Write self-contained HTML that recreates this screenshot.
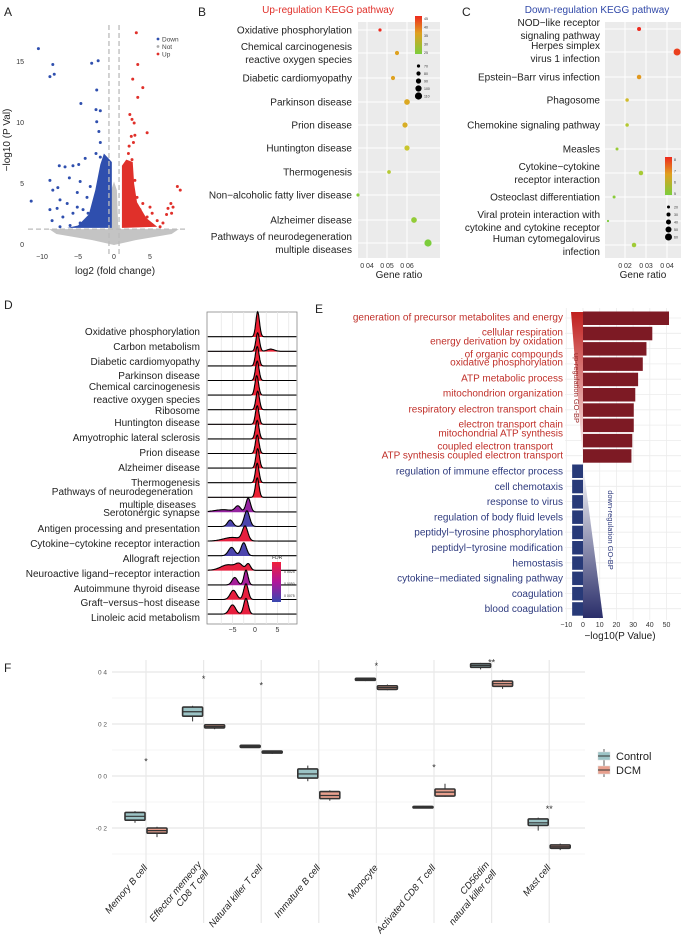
<!DOCTYPE html>
<html><head><meta charset="utf-8"><style>
html,body{margin:0;padding:0;background:#fff;}
svg{display:block;font-family:"Liberation Sans",Arial,sans-serif;}
</style></head><body>
<svg id="fig" width="681" height="942" viewBox="0 0 681 942" xmlns="http://www.w3.org/2000/svg">
<defs>
<linearGradient id="gB" x1="0" y1="0" x2="0" y2="1"><stop offset="0" stop-color="#ee2a1e"/><stop offset="0.45" stop-color="#e0a020"/><stop offset="1" stop-color="#7ccd3c"/></linearGradient>
<linearGradient id="gFDR" x1="0" y1="0" x2="0" y2="1"><stop offset="0" stop-color="#f0203a"/><stop offset="0.5" stop-color="#b0169a"/><stop offset="1" stop-color="#3848b0"/></linearGradient>
<linearGradient id="gUp" x1="0" y1="0" x2="0" y2="1"><stop offset="0" stop-color="#c0201e"/><stop offset="1" stop-color="#fff"/></linearGradient>
<linearGradient id="gDn" x1="0" y1="0" x2="0" y2="1"><stop offset="0" stop-color="#fff"/><stop offset="1" stop-color="#2a2e6a"/></linearGradient>
</defs>
<g id="A"></g><g id="B"></g><g id="C"></g><g id="D"></g><g id="E"></g><g id="F"></g>
</svg>
<script>
// ---------- Panel A data ----------
const downX=[-10.5,-8.5,-8.3,-8.9,-3.1,-2.2,-2.4,-4.6,-2.5,-1.9,-2.4,-2.1,-1.9,-2.5,-1.9,-4,-4.9,-7.6,-6.8,-5.7,-8.9,-6.2,-8.5,-7.8,-4.7,-11.5,-8.9,-8.6,-7.5,-6.5,-5.1,-3.75,-7.1,-5.7,-4.3,-3.3,-7.5,-6.1,-4.7,-3.6,-5.1,-7.9];
const downY=[16.1,14.8,14,13.8,14.9,15.1,12.7,11.6,11.1,11,10.1,9.3,8.4,7.5,7.2,7.1,6.6,6.5,6.4,6.5,5.3,5.5,4.5,4.7,5.2,3.6,2.9,2,3.7,3.4,4.3,3.9,2.3,2.6,2.9,4.8,1.5,1.6,1.8,2.6,3.1,3];
const upX=[3.1,3.3,2.6,4,3.3,2.2,2.5,2.8,2.9,4.6,2.4,2.1,2.7,2,2.5,8.8,9.2,7.9,7.5,7.3,6.8,6.4,4.6,3.6,3.2,4,5.3,6,8,8.2,2.9,5];
const upY=[17.4,14.8,13.6,12.9,12.1,10.7,10.3,10,9,9.2,8.9,8.1,8.4,7.5,7,4.8,4.5,3.4,3,2.5,1.8,1.5,2.3,2.9,3.9,3.4,2.6,2,2.6,3.1,5.3,3.1];
const downCloudX=[-0.3,-0.3,-1.4,-1.9,-2.6,-3.5,-5,-6.5];
const downCloudY=[1.4,6.8,7.5,6.6,4.5,2.5,1.6,1.4];
const upCloudX=[1.1,1.1,1.7,2.6,2.8,3.2,4.5,6];
const upCloudY=[1.4,6.5,7,6.8,5,3.5,2.2,1.5];
const notCloudX=[-9,-4,-0.6,-0.4,0,0.4,0.6,4,9,8,3,0,-3,-8];
const notCloudY=[1.3,1.3,1.3,4.5,5.2,4.5,1.3,1.3,1.3,0.9,0.4,0,0.4,0.9];
const aXTicks=[-10,-5,0,5];
const aYTicks=[0,5,10,15];
// ---------- Panel B data ----------
const bPathways=[["Oxidative phosphorylation"],["Chemical carcinogenesis","reactive oxygen species"],["Diabetic cardiomyopathy"],["Parkinson disease"],["Prion disease"],["Huntington disease"],["Thermogenesis"],["Non\u2212alcoholic fatty liver disease"],["Alzheimer disease"],["Pathways of neurodegeneration","multiple diseases"]];
const bRatio=[0.0465,0.055,0.053,0.060,0.059,0.060,0.051,0.0355,0.0635,0.0705];
const bCount=[45,38,38,37,36,32,30,26,27,25];
const bGenes=[70,80,80,95,90,90,75,70,95,110];
const bTicks=[0.04,0.05,0.06];
// ---------- Panel C data ----------
const cPathways=[["NOD\u2212like receptor","signaling pathway"],["Herpes simplex","virus 1 infection"],["Epstein\u2212Barr virus infection"],["Phagosome"],["Chemokine signaling pathway"],["Measles"],["Cytokine\u2212cytokine","receptor interaction"],["Osteoclast differentiation"],["Viral protein interaction with","cytokine and cytokine receptor"],["Human cytomegalovirus","infection"]];
const cRatio=[0.0267,0.0448,0.0267,0.021,0.021,0.0162,0.0276,0.0148,0.0119,0.0243];
const cCount=[8,7.8,7,6.2,5.6,5.2,5.4,5,4.8,5.3];
const cGenes=[30,60,35,25,25,20,35,20,12,35];
const cTicks=[0.02,0.03,0.04];
// ---------- Panel D data ----------
const dPathways=["Oxidative phosphorylation","Carbon metabolism","Diabetic cardiomyopathy","Parkinson disease","Chemical carcinogenesis","Ribosome","Huntington disease","Amyotrophic lateral sclerosis","Prion disease","Alzheimer disease","Thermogenesis","Pathways of neurodegeneration","Serotonergic synapse","Antigen processing and presentation","Cytokine\u2212cytokine receptor interaction","Allograft rejection","Neuroactive ligand\u2212receptor interaction","Autoimmune thyroid disease","Graft\u2212versus\u2212host disease","Linoleic acid metabolism"];
const dExtraLabels=["reactive oxygen species","multiple diseases"];
const dMu=[[0.6],[0.6,3.5],[0.5],[0.5],[0.4],[0.6],[0.5],[0.5],[0.5],[0.6],[0.5],[0.5],[-1.5,-3.8,-7],[-5.5,-1.8],[-2.2,-5],[-5.2,-2.5],[-6,-3.5,-1.5],[-4.5,-2],[-4.8,-2],[-5,-2]];
const dSd=[[0.4],[0.4,0.8],[0.4],[0.4],[0.4],[0.4],[0.4],[0.4],[0.4],[0.4],[0.4],[0.4],[0.5,0.6,2],[0.6,0.6],[0.6,2],[0.7,0.6],[1.6,0.8,0.5],[0.6,0.45],[0.7,0.5],[0.7,0.5]];
const dW=[[1.35],[1,0.12],[1.05],[1.05],[1.05],[1.0],[1.0],[1.0],[1.0],[1.05],[1.05],[1.05],[0.75,0.3,0.12],[0.35,0.85],[0.75,0.2],[0.45,0.7],[0.3,0.3,0.35],[0.4,0.8],[0.5,0.85],[0.5,0.85]];
const dFDR=[0.0001,0.0001,0.0001,0.0001,0.0001,0.0001,0.0001,0.0001,0.0001,0.0001,0.0001,0.0001,0.006,0.009,0.0005,0.009,0.0005,0.005,0.0005,0.0005];
const dTicks=[-5,0,5];
// ---------- Panel E data ----------
const eUpTerms=["generation of precursor metabolites and energy","cellular respiration","energy derivation by oxidation","of organic compounds","oxidative phosphorylation","ATP metabolic process","mitochondrion organization","respiratory electron transport chain","electron transport chain","mitochondrial ATP synthesis","coupled electron transport","ATP synthesis coupled electron transport"];
const eUpTermY=[317,332,341,354,362,378,393,409,424,433,446,455];
const eUpVals=[51.5,41.5,38,35.8,33,31.3,30.4,30.4,29.5,29];
const eDownTerms=["regulation of immune effector process","cell chemotaxis","response to virus","regulation of body fluid levels","peptidyl\u2212tyrosine phosphorylation","peptidyl\u2212tyrosine modification","hemostasis","cytokine\u2212mediated signaling pathway","coagulation","blood coagulation"];
const eDownVals=[-6.5,-6.5,-6.5,-6.5,-6.5,-6.5,-6.5,-6.5,-6.5,-6.5];
const eTicks=[-10,0,10,20,30,40,50];
// ---------- Panel F data ----------
const fCells=[["Memory B cell"],["Effector memeory","CD8 T cell"],["Natural killer T cell"],["Immature  B cell"],["Monocyte"],["Activated CD8 T cell"],["CD56dim","natural killer cell"],["Mast cell"]];
const ctrlMed=[-0.155,0.247,0.113,0.008,0.372,-0.12,0.425,-0.18];
const ctrlQ1=[-0.17,0.23,0.11,-0.008,0.368,-0.123,0.418,-0.19];
const ctrlQ3=[-0.14,0.265,0.118,0.027,0.376,-0.117,0.432,-0.165];
const ctrlLo=[-0.18,0.21,0.108,-0.02,0.365,-0.125,0.41,-0.21];
const ctrlHi=[-0.135,0.27,0.12,0.04,0.378,-0.115,0.435,-0.16];
const dcmMed=[-0.21,0.19,0.092,-0.075,0.34,-0.062,0.355,-0.272];
const dcmQ1=[-0.22,0.185,0.088,-0.087,0.333,-0.077,0.345,-0.278];
const dcmQ3=[-0.2,0.197,0.096,-0.06,0.347,-0.05,0.365,-0.265];
const dcmLo=[-0.235,0.18,0.085,-0.095,0.33,-0.08,0.335,-0.285];
const dcmHi=[-0.195,0.2,0.098,-0.055,0.352,-0.03,0.37,-0.26];
const fStars=["*","*","*","","*","*","**","**"];
const fStarVal=[0.063,0.38,0.355,null,0.43,0.04,0.445,-0.12];
const fTicks=[-0.2,0.0,0.2,0.4];
const fTickLabels=["-0 2","0 0","0 2","0 4"];

// ---------- helpers ----------
const NS="http://www.w3.org/2000/svg";
function el(tag,parent,attrs){const e=document.createElementNS(NS,tag);for(const k in attrs)e.setAttribute(k,attrs[k]);parent.appendChild(e);return e;}
function txt(parent,x,y,s,size,fill,anchor,extra){const t=el('text',parent,Object.assign({x:x,y:y,'font-size':size,fill:fill,'text-anchor':anchor||'start'},extra||{}));t.textContent=s;return t;}
function lerpC(a,b,t){const pa=[parseInt(a.substr(1,2),16),parseInt(a.substr(3,2),16),parseInt(a.substr(5,2),16)],pb=[parseInt(b.substr(1,2),16),parseInt(b.substr(3,2),16),parseInt(b.substr(5,2),16)];return 'rgb('+pa.map((v,i)=>Math.round(v+(pb[i]-v)*t)).join(',')+')';}
function ramp(stops,t){t=Math.max(0,Math.min(1,t));const n=stops.length-1;const i=Math.min(n-1,Math.floor(t*n));return lerpC(stops[i],stops[i+1],t*n-i);}

// ---------- Panel A ----------
(function(){
const g=document.getElementById('A');
const ax=v=>114+v*7.2, ay=v=>245-v*12.2;
let t;
t=txt(g,4,16,"A",12,"#222");


const poly=(xs,ys,c,name)=>{const p=el('polygon',g,{points:xs.map((x,i)=>ax(x)+','+ay(ys[i])).join(' '),fill:c});

};
poly(notCloudX,notCloudY,'#c4c4c4','not-significant-cloud');
poly(downCloudX,downCloudY,'#2f4fae','down-dense-cloud');
poly(upCloudX,upCloudY,'#e0302a','up-dense-cloud');
downX.forEach((x,i)=>{const c=el('circle',g,{cx:ax(x),cy:ay(downY[i]),r:1.5,fill:'#2f4fae'});

});
upX.forEach((x,i)=>{const c=el('circle',g,{cx:ax(x),cy:ay(upY[i]),r:1.5,fill:'#e0302a'});

});
[-0.7,0.7].forEach(v=>{const l=el('line',g,{x1:ax(v),x2:ax(v),y1:25,y2:255,stroke:'#bbb','stroke-width':1.3,'stroke-dasharray':'5,3'});

});
const hl=el('line',g,{x1:28,x2:185,y1:ay(1.3),y2:ay(1.3),stroke:'#bbb','stroke-width':1.3,'stroke-dasharray':'5,3'});


aXTicks.forEach(v=>{const tt=txt(g,ax(v),259,String(v).replace('-','\u2212'),7,'#333','middle');

});
aYTicks.forEach(v=>{const tt=txt(g,24,ay(v)+2,String(v),7,'#333','end');

});
t=txt(g,115,274,"log2 (fold change)",10,"#222","middle");


t=txt(g,0,0,"\u2212log10 (P Val)",10,"#222","middle",{transform:'translate(10,140) rotate(-90)'});


[["Down",'#2f4fae'],["Not",'#aaa'],["Up",'#e0302a']].forEach((d,i)=>{
const c=el('circle',g,{cx:158,cy:39+i*7.5,r:1.4,fill:d[1]});


const tt=txt(g,162,41.5+i*7.5,d[0],6.5,'#444');

});
})();

// ---------- dot plot helper (B, C) ----------
function dotPanel(gid,cfg){
const g=document.getElementById(gid);
let t=txt(g,cfg.letterX,16,cfg.letter,12,'#222');


t=txt(g,cfg.titleX,13,cfg.title,10,cfg.titleColor,'middle');


const bg=el('rect',g,{x:cfg.x0,y:cfg.y0,width:cfg.x1-cfg.x0,height:cfg.y1-cfg.y0,fill:'#ebebeb'});


const sx=v=>cfg.px0+(v-cfg.tick0)*cfg.pxPer;
cfg.ticks.forEach(v=>{const l=el('line',g,{x1:sx(v),x2:sx(v),y1:cfg.y0,y2:cfg.y1,stroke:'#fff','stroke-width':1});


const tt=txt(g,sx(v),cfg.y1+10,v.toFixed(2).replace('.',' '),7,'#333','middle');

});
cfg.rowY.forEach(y=>{const l=el('line',g,{x1:cfg.x0,x2:cfg.x1,y1:y,y2:y,stroke:'#fff','stroke-width':1});

});
cfg.labels.forEach((lines,i)=>{lines.forEach((s,j)=>{const y=cfg.rowY[i]+3.5+(j-(lines.length-1)/2)*13;
const tt=txt(g,cfg.labelX,y,s,10,'#222','end');

});});
cfg.ratio.forEach((v,i)=>{const c=el('circle',g,{cx:sx(v),cy:cfg.rowY[i],r:cfg.rScale(cfg.genes[i]),fill:ramp(['#7ccd3c','#c8c830','#e0a020','#ee2a1e'],(cfg.count[i]-cfg.cmin)/(cfg.cmax-cfg.cmin))});

});
t=txt(g,(cfg.x0+cfg.x1)/2,cfg.y1+20,'Gene ratio',10,'#222','middle');


const cb=el('rect',g,{x:cfg.legX,y:cfg.legY,width:7,height:38,fill:'url(#gB)'});


cfg.legLabels.forEach((s,i)=>{const tt=txt(g,cfg.legX+9,cfg.legY+4+i*(34/(cfg.legLabels.length-1)),s,3.5,'#333');

});
cfg.sizeLabels.forEach((v,i)=>{const y=cfg.legY+50+i*7.5;
const c=el('circle',g,{cx:cfg.legX+3.5,cy:y,r:cfg.rScale(v),fill:'#000'});


const tt=txt(g,cfg.legX+9,y+1.5,String(v),3.5,'#333');

});
}
dotPanel('B',{letter:'B',letterX:198,title:'Up-regulation KEGG pathway',titleX:328,titleColor:'#e0302a',x0:358,x1:440,y0:22,y1:258,px0:367,tick0:0.04,pxPer:2000,ticks:bTicks,rowY:[30,53,78,102,125,148,172,195,220,243],labels:bPathways,labelX:352,ratio:bRatio,count:bCount,genes:bGenes,cmin:25,cmax:45,rScale:v=>1.6+(v-70)*0.05,legX:415,legY:16,legLabels:['45','40','35','30','25'],sizeLabels:[70,80,90,100,110]});
dotPanel('C',{letter:'C',letterX:462,title:'Down-regulation KEGG pathway',titleX:597,titleColor:'#3048a8',x0:605,x1:681,y0:22,y1:258,px0:625,tick0:0.02,pxPer:2100,ticks:cTicks,rowY:[29,52,77,100,125,149,173,197,221,245],labels:cPathways,labelX:600,ratio:cRatio,count:cCount,genes:cGenes,cmin:4.8,cmax:8,rScale:v=>1.1+(v-12)*0.05,legX:665,legY:157,legLabels:['8','7','6','5'],sizeLabels:[20,30,40,50,60]});

// ---------- Panel D ----------
(function(){
const g=document.getElementById('D');
let t=txt(g,4,309,'D',12,'#222');


const dx=v=>255+v*4.5, base=i=>337+i*14.6;
const labelY=[335,350,365,379,390,414,426,441,456,471,486,495,516,532,547,562,577,592,606,621];
const extraY=[403,508];
const bg=el('rect',g,{x:207,y:312,width:90,height:312,fill:'#fff',stroke:'#888','stroke-width':0.8});


[-7.5,-5,-2.5,0,2.5,5,7.5].forEach(v=>{const l=el('line',g,{x1:dx(v),x2:dx(v),y1:312,y2:624,stroke:'#e6e6e6','stroke-width':0.8});

});
dPathways.forEach((s,i)=>{
const b=base(i);
const pts=[];
for(let v=-10.5;v<=9.2;v+=0.1){let d=0.015;dMu[i].forEach((m,k)=>{d+=dW[i][k]*Math.exp(-0.5*Math.pow((v-m)/dSd[i][k],2));});pts.push([dx(v),b-d*18.5]);}
const col=ramp(['#ee2030','#c0168e','#8c28a6','#3050b0'],dFDR[i]/0.01);
const area=el('path',g,{d:'M'+dx(-10.5)+','+b+' L'+pts.map(p=>p[0].toFixed(1)+','+p[1].toFixed(1)).join(' L')+' L'+dx(9.2)+','+b+' Z',fill:col,stroke:'none'});


const line=el('path',g,{d:'M'+pts.map(p=>p[0].toFixed(1)+','+p[1].toFixed(1)).join(' L'),fill:'none',stroke:'#000','stroke-width':1.1});


const tt=txt(g,i===11?193:200,labelY[i],s,10,'#222','end');


});
dExtraLabels.forEach((s,k)=>{const tt=txt(g,k===1?196:200,extraY[k],s,10,'#222','end');

});
dTicks.forEach(v=>{const tt=txt(g,dx(v),632,String(v).replace('-','\u2212'),7,'#333','middle');

});
const cb=el('rect',g,{x:272,y:562,width:9,height:40,fill:'url(#gFDR)'});


t=txt(g,272,559,'FDR',5,'#333');


['0 0025','0 0050','0 0075'].forEach((s,i)=>{const tt=txt(g,284,573+i*12,s,3.5,'#333');

});
})();

// ---------- Panel E ----------
(function(){
const g=document.getElementById('E');
let t=txt(g,315,313,'E',12,'#222');


const ex=v=>583+v*1.67, rowY=i=>318+i*15.3;
eTicks.forEach(v=>{const l=el('line',g,{x1:ex(v),x2:ex(v),y1:308,y2:620,stroke:'#ececec','stroke-width':0.8});


const tt=txt(g,ex(v),627,String(v).replace('-','\u2212'),7,'#333','middle');

});
for(let i=0;i<20;i++){const l=el('line',g,{x1:565,x2:681,y1:rowY(i),y2:rowY(i),stroke:'#ececec','stroke-width':0.8});

}
const tu=el('polygon',g,{points:'571,312 583,312 583,461',fill:'url(#gUp)'});


const td=el('polygon',g,{points:'583,464 583,618 603,618',fill:'url(#gDn)'});


eUpVals.forEach((v,i)=>{const r=el('rect',g,{x:ex(0),y:rowY(i)-6.5,width:ex(v)-ex(0),height:13.5,fill:'#7d1a24'});

});
eDownVals.forEach((v,i)=>{const r=el('rect',g,{x:ex(v),y:rowY(10+i)-6.5,width:ex(0)-ex(v),height:13.5,fill:'#283a78'});

});
eUpTerms.forEach((s,i)=>{const tt=txt(g,i===10?553:563,eUpTermY[i]+3.5,s,10,'#c0302a','end');

});
eDownTerms.forEach((s,i)=>{const tt=txt(g,563,rowY(10+i)+3.5,s,10,'#2e3a7e','end');

});
t=txt(g,0,0,'up-regulation GO-BP',7.5,'#9a2a2a','middle',{transform:'translate(574,388) rotate(90)'});


t=txt(g,0,0,'down-regulation GO-BP',7.5,'#2e3a7e','middle',{transform:'translate(608,530) rotate(90)'});


t=txt(g,620,639,'\u2212log10(P Value)',10,'#222','middle');


})();

// ---------- Panel F ----------
(function(){
const g=document.getElementById('F');
let t=txt(g,4,672,'F',12,'#222');


const fy=v=>776-v*260, fx=i=>146+i*57.6;
[-0.3,-0.1,0.1,0.3].forEach(v=>{const l=el('line',g,{x1:112,x2:585,y1:fy(v),y2:fy(v),stroke:'#f2f2f2','stroke-width':0.8});

});
fTicks.forEach((v,i)=>{const l=el('line',g,{x1:112,x2:585,y1:fy(v),y2:fy(v),stroke:'#e8e8e8','stroke-width':1.3});


const tt=txt(g,107,fy(v)+2.5,fTickLabels[i],6.5,'#555','end');

});
fCells.forEach((lines,i)=>{const l=el('line',g,{x1:fx(i),x2:fx(i),y1:660,y2:923,stroke:'#e8e8e8','stroke-width':1.2});

});
function box(i,off,med,q1,q3,lo,hi,fill,name){
const cx=fx(i)+off;
const w=el('line',g,{x1:cx,x2:cx,y1:fy(hi),y2:fy(lo),stroke:'#333','stroke-width':1});


const r=el('rect',g,{x:cx-10,y:fy(q3),width:20,height:Math.max(1.5,fy(q1)-fy(q3)),fill:fill,stroke:'#333','stroke-width':1.6,rx:1});


const m=el('line',g,{x1:cx-10,x2:cx+10,y1:fy(med),y2:fy(med),stroke:'#333','stroke-width':1.2});


}
fCells.forEach((lines,i)=>{
box(i,-11,ctrlMed[i],ctrlQ1[i],ctrlQ3[i],ctrlLo[i],ctrlHi[i],'#9cc4c6','control');
box(i,11,dcmMed[i],dcmQ1[i],dcmQ3[i],dcmLo[i],dcmHi[i],'#e8a08e','dcm');
if(fStars[i]){const s=txt(g,fx(i),fy(fStarVal[i])+5,fStars[i],9,'#333','middle');

}
const tg=el('g',g,{transform:'translate('+(fx(i)+2)+',868) rotate(-50)'});


lines.forEach((s,j)=>{const y=lines.length===2?(j===0?-5:6):0;
const tt=txt(tg,lines.length===2&&j===1?-2:0,y,s,9.5,'#222','end',{'font-style':'italic'});

});
});
[["Control",'#9cc4c6'],["DCM",'#e8a08e']].forEach((d,i)=>{const y=756+i*14;
const l=el('line',g,{x1:604,x2:604,y1:y-7,y2:y+7,stroke:'#333','stroke-width':0.8});


const r=el('rect',g,{x:598,y:y-4,width:12,height:8,fill:d[1],stroke:'#ddd','stroke-width':0.5});


const m=el('line',g,{x1:598,x2:610,y1:y,y2:y,stroke:'#333','stroke-width':1});


const tt=txt(g,616,y+4,d[0],11,'#222');

});
})();
</script>
</body></html>
